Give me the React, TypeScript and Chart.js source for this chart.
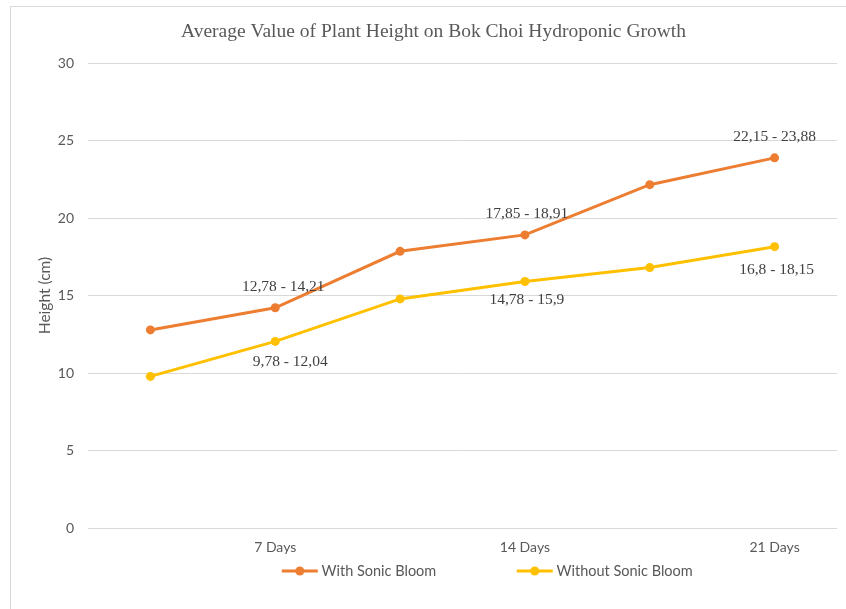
import React, { useEffect, useRef } from 'react';
import { Chart, registerables } from 'chart.js';

Chart.register(...registerables);

// ---- data ----
const categories = ['', '7 Days', '', '14 Days', '', '21 Days'];
const seriesNames = ['With Sonic Bloom', 'Without Sonic Bloom'];
const withSonicBloom = [12.78, 14.21, 17.85, 18.91, 22.15, 23.88];
const withoutSonicBloom = [9.78, 12.04, 14.78, 15.9, 16.8, 18.15];
const withRangeLabels = ['', '12,78 - 14,21', '', '17,85 - 18,91', '', '22,15 - 23,88'];
const withoutRangeLabels = ['', '9,78 - 12,04', '', '14,78 - 15,9', '', '16,8 - 18,15'];
const yMin = 0;
const yMax = 30;
const yStep = 5;
const chartTitle = 'Average Value of Plant Height on Bok Choi Hydroponic Growth';
const yAxisTitle = 'Height (cm)';

// ---- styles ----
const COLORS = ['#ED7D31', '#FFC000'];
const TEXT = '#595959';
const SANS = 'Lato';
const SERIF = "'Liberation Serif', 'Times New Roman', serif";
const AXIS_FONT_SIZE = 14;
const LEGEND_FONT_SIZE = 14.5;
const LEGEND_BOX = 106;
const LEGEND_PAD = 7;
const LEGEND_SHIFT = 17;

// label placement (style): vertical offset per series, small horizontal nudges
const labelPlacement = [
  { dy: -21, nudges: [0, 8, 0, 2, 0, 0], dyNudges: [0, 0, 0, 0, 0, 0] },
  { dy: 21, nudges: [0, 15, 0, 2, 0, 2], dyNudges: [0, 0, 0, -3, 0, 2] },
];

function legendImage(color: string) {
  const half = LEGEND_FONT_SIZE / 2;
  const W = Math.round(LEGEND_BOX + 2 * half);
  const H = 12;
  const c = document.createElement('canvas');
  c.width = W;
  c.height = H;
  const g = c.getContext('2d')!;
  g.strokeStyle = color;
  g.lineWidth = 3;
  g.beginPath();
  g.moveTo(W - 40, H / 2);
  g.lineTo(W - 4, H / 2);
  g.stroke();
  g.fillStyle = color;
  g.beginPath();
  g.arc(W - 22, H / 2, 4.5, 0, Math.PI * 2);
  g.fill();
  return c;
}

const rangeLabelPlugin = {
  id: 'rangeLabels',
  afterDatasetsDraw(chart: any) {
    const ctx = chart.ctx;
    const all = [withRangeLabels, withoutRangeLabels];
    ctx.save();
    ctx.font = `15.5px ${SERIF}`;
    ctx.fillStyle = '#404040';
    ctx.textAlign = 'center';
    ctx.textBaseline = 'middle';
    chart.data.datasets.forEach((_ds: any, di: number) => {
      const meta = chart.getDatasetMeta(di);
      const texts = all[di];
      const pl = labelPlacement[di];
      meta.data.forEach((pt: any, i: number) => {
        if (!texts[i]) return;
        ctx.fillText(texts[i], pt.x + pl.nudges[i], pt.y + pl.dy + pl.dyNudges[i]);
      });
    });
    ctx.restore();
  },
};

// moves the legend row sideways so it sits where the reference places it
const legendOffsetPlugin = {
  id: 'legendOffset',
  afterLayout(chart: any) {
    const lg = chart.legend;
    if (!lg) return;
    lg.left += LEGEND_SHIFT;
    lg.right += LEGEND_SHIFT;
  },
};

export default function App() {
  const ref = useRef<HTMLCanvasElement | null>(null);

  useEffect(() => {
    if (!ref.current) return;
    const chart = new Chart(ref.current, {
      type: 'line',
      data: {
        labels: categories,
        datasets: [
          {
            label: seriesNames[0],
            data: withSonicBloom,
            borderColor: COLORS[0],
            backgroundColor: COLORS[0],
            borderWidth: 3,
            pointRadius: 4.5,
            pointBorderWidth: 0,
            pointBackgroundColor: COLORS[0],
            tension: 0,
          },
          {
            label: seriesNames[1],
            data: withoutSonicBloom,
            borderColor: COLORS[1],
            backgroundColor: COLORS[1],
            borderWidth: 3,
            pointRadius: 4.5,
            pointBorderWidth: 0,
            pointBackgroundColor: COLORS[1],
            tension: 0,
          },
        ],
      },
      options: {
        responsive: false,
        animation: false,
        events: [],
        layout: { padding: { left: 30, right: 9, top: 0, bottom: 20.75 } },
        scales: {
          x: {
            type: 'category',
            offset: true,
            grid: { display: false, drawTicks: false, tickLength: 0 },
            border: { display: false },
            ticks: {
              color: TEXT,
              font: { family: SANS, size: AXIS_FONT_SIZE },
              padding: 11,
              autoSkip: false,
              maxRotation: 0,
            },
            afterFit: (s: any) => {
              s.height = 28.75;
            },
          },
          y: {
            min: yMin,
            max: yMax,
            ticks: {
              stepSize: yStep,
              color: TEXT,
              font: { family: SANS, size: AXIS_FONT_SIZE },
              padding: 14,
            },
            grid: { color: '#d9d9d9', drawTicks: false, lineWidth: 1 },
            border: { display: false },
            title: {
              display: true,
              text: yAxisTitle,
              color: TEXT,
              font: { family: SANS, size: 15.5 },
              padding: { top: 5.7, bottom: 0 },
            },
            afterFit: (s: any) => {
              s.width = 58;
            },
          },
        },
        plugins: {
          title: {
            display: true,
            text: chartTitle,
            color: TEXT,
            font: { family: SERIF, size: 19.5, weight: 'normal' },
            padding: { top: 20.3, bottom: 19.3 },
          },
          legend: {
            display: true,
            position: 'bottom',
            labels: {
              color: TEXT,
              font: { family: SANS, size: LEGEND_FONT_SIZE },
              usePointStyle: true,
              pointStyleWidth: LEGEND_BOX,
              padding: LEGEND_PAD,
              generateLabels: (c: any) =>
                c.data.datasets.map((ds: any, i: number) => ({
                  text: ds.label,
                  fillStyle: ds.borderColor,
                  strokeStyle: ds.borderColor,
                  lineWidth: 0,
                  pointStyle: legendImage(ds.borderColor),
                  hidden: false,
                  datasetIndex: i,
                  fontColor: TEXT,
                })),
            },
          },
          tooltip: { enabled: false },
        },
      },
      plugins: [rangeLabelPlugin, legendOffsetPlugin],
    } as any);
    return () => chart.destroy();
  }, []);

  return (
    <div
      style={{
        position: 'fixed',
        left: 0,
        top: 0,
        width: 846,
        height: 609,
        background: '#ffffff',
        overflow: 'hidden',
      }}
    >
      <div
        style={{
          position: 'absolute',
          left: 10,
          top: 6,
          width: 900,
          height: 700,
          borderLeft: '1px solid #d9d9d9',
          borderTop: '1px solid #d9d9d9',
        }}
      />
      <canvas
        ref={ref}
        width={846}
        height={609}
        style={{ position: 'absolute', left: 0, top: 0, width: 846, height: 609 }}
      />
    </div>
  );
}
